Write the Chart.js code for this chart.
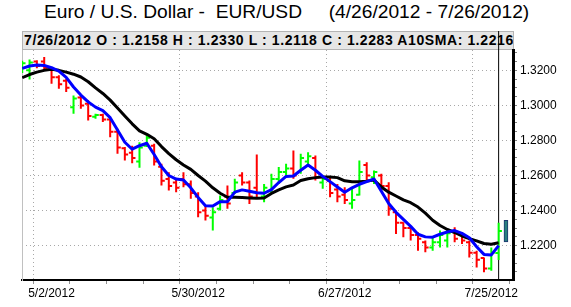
<!DOCTYPE html>
<html><head><meta charset="utf-8">
<script src="https://cdn.jsdelivr.net/npm/chart.js@4.4.1/dist/chart.umd.min.js"></script>
<style>
html,body{margin:0;padding:0;background:#fff;}
#wrap{position:relative;width:571px;height:307px;overflow:hidden;font-family:Arial,"Liberation Sans",sans-serif;}
#title{position:absolute;left:44px;top:1px;font-size:19.2px;white-space:pre;color:#000;}
#hdr{position:absolute;left:22px;top:31px;width:489px;height:17px;background:#e6e6e6;border:1px solid #b4b4b4;font-size:14px;font-weight:bold;white-space:pre;line-height:17px;padding-left:1px;color:#000;letter-spacing:0.6px;overflow:hidden;}
canvas{position:absolute;left:0;top:0;}
</style></head>
<body><div id="wrap"><div id="title">Euro / U.S. Dollar -  EUR/USD     (4/26/2012 - 7/26/2012)</div><div id="hdr">7/26/2012 O : 1.2158 H : 1.2330 L : 1.2118 C : 1.2283 A10SMA: 1.2216</div><canvas id="c" width="571" height="307"></canvas></div>
<script>
const dates = ["4/26/2012","4/27/2012","4/30/2012","5/1/2012","5/2/2012","5/3/2012","5/4/2012","5/7/2012","5/8/2012","5/9/2012","5/10/2012","5/11/2012","5/14/2012","5/15/2012","5/16/2012","5/17/2012","5/18/2012","5/21/2012","5/22/2012","5/23/2012","5/24/2012","5/25/2012","5/28/2012","5/29/2012","5/30/2012","5/31/2012","6/1/2012","6/4/2012","6/5/2012","6/6/2012","6/7/2012","6/8/2012","6/11/2012","6/12/2012","6/13/2012","6/14/2012","6/15/2012","6/18/2012","6/19/2012","6/20/2012","6/21/2012","6/22/2012","6/25/2012","6/26/2012","6/27/2012","6/28/2012","6/29/2012","7/2/2012","7/3/2012","7/4/2012","7/5/2012","7/6/2012","7/9/2012","7/10/2012","7/11/2012","7/12/2012","7/13/2012","7/16/2012","7/17/2012","7/18/2012","7/19/2012","7/20/2012","7/23/2012","7/24/2012","7/25/2012","7/26/2012"];
const open  = [1.3215,1.3200,1.3250,1.3250,1.3205,1.3160,1.3140,1.2990,1.3045,1.3010,1.2935,1.2945,1.2920,1.2850,1.2755,1.2730,1.2680,1.2770,1.2770,1.2650,1.2580,1.2560,1.2580,1.2550,1.2480,1.2400,1.2360,1.2410,1.2480,1.2500,1.2600,1.2560,1.2530,1.2480,1.2510,1.2580,1.2620,1.2640,1.2620,1.2680,1.2700,1.2560,1.2570,1.2520,1.2490,1.2440,1.2490,1.2660,1.2590,1.2600,1.2540,1.2390,1.2330,1.2300,1.2260,1.2220,1.2190,1.2220,1.2230,1.2280,1.2260,1.2220,1.2160,1.2130,1.2070,1.2158];
const high  = [1.3255,1.3262,1.3258,1.3276,1.3210,1.3172,1.3152,1.3057,1.3057,1.3029,1.2952,1.2952,1.2924,1.2867,1.2762,1.2770,1.2790,1.2829,1.2781,1.2667,1.2619,1.2581,1.2619,1.2571,1.2505,1.2429,1.2419,1.2486,1.2543,1.2581,1.2619,1.2571,1.2720,1.2552,1.2610,1.2648,1.2667,1.2743,1.2724,1.2733,1.2714,1.2590,1.2590,1.2552,1.2533,1.2524,1.2686,1.2676,1.2629,1.2610,1.2562,1.2400,1.2333,1.2305,1.2276,1.2229,1.2248,1.2286,1.2295,1.2305,1.2276,1.2229,1.2171,1.2133,1.2190,1.2330];
const low   = [1.3185,1.3148,1.3212,1.3200,1.3124,1.3095,1.3076,1.2952,1.2981,1.2914,1.2924,1.2905,1.2819,1.2724,1.2686,1.2670,1.2645,1.2762,1.2657,1.2543,1.2514,1.2505,1.2533,1.2467,1.2362,1.2343,1.2286,1.2400,1.2410,1.2495,1.2543,1.2438,1.2476,1.2448,1.2495,1.2552,1.2590,1.2581,1.2610,1.2648,1.2571,1.2524,1.2476,1.2448,1.2438,1.2410,1.2486,1.2571,1.2552,1.2514,1.2371,1.2267,1.2248,1.2229,1.2171,1.2162,1.2171,1.2190,1.2190,1.2219,1.2210,1.2133,1.2076,1.2048,1.2057,1.2118];
const close = [1.3240,1.3245,1.3225,1.3215,1.3160,1.3120,1.3100,1.3040,1.3000,1.2940,1.2945,1.2920,1.2850,1.2760,1.2720,1.2700,1.2760,1.2815,1.2680,1.2570,1.2540,1.2530,1.2550,1.2500,1.2390,1.2370,1.2390,1.2460,1.2440,1.2560,1.2560,1.2480,1.2500,1.2530,1.2580,1.2620,1.2640,1.2600,1.2700,1.2710,1.2590,1.2580,1.2500,1.2480,1.2460,1.2460,1.2620,1.2600,1.2620,1.2540,1.2410,1.2330,1.2300,1.2260,1.2240,1.2190,1.2220,1.2260,1.2270,1.2240,1.2230,1.2160,1.2120,1.2070,1.2160,1.2283];
const sma10 = [1.3158,1.3176,1.3190,1.3200,1.3206,1.3200,1.3190,1.3178,1.3162,1.3135,1.3100,1.3068,1.3030,1.2985,1.2940,1.2895,1.2855,1.2835,1.2810,1.2765,1.2725,1.2690,1.2660,1.2635,1.2600,1.2568,1.2530,1.2499,1.2476,1.2476,1.2474,1.2472,1.2470,1.2472,1.2498,1.2518,1.2535,1.2546,1.2572,1.2582,1.2588,1.2592,1.2592,1.2588,1.2570,1.2565,1.2565,1.2568,1.2574,1.2535,1.2505,1.2483,1.2461,1.2445,1.2420,1.2385,1.2345,1.2315,1.2292,1.2275,1.2255,1.2240,1.2227,1.2212,1.2208,1.2216];
const fastMA = [1.3211,1.3225,1.3230,1.3228,1.3215,1.3195,1.3160,1.3105,1.3059,1.3020,1.2990,1.2970,1.2930,1.2860,1.2790,1.2750,1.2770,1.2784,1.2720,1.2650,1.2600,1.2580,1.2575,1.2530,1.2475,1.2428,1.2426,1.2451,1.2451,1.2505,1.2518,1.2510,1.2502,1.2499,1.2520,1.2560,1.2595,1.2597,1.2630,1.2660,1.2630,1.2595,1.2565,1.2535,1.2505,1.2530,1.2550,1.2565,1.2580,1.2510,1.2440,1.2390,1.2350,1.2310,1.2265,1.2250,1.2248,1.2265,1.2278,1.2286,1.2270,1.2245,1.2194,1.2150,1.2147,1.2200];
const xLabels = ["5/2/2012","5/30/2012","6/27/2012","7/25/2012"];
const yMin = 1.2004, yMax = 1.3316;
const markerRange = [1.2221, 1.2345];
const cursorSpan = [1.2004, 1.3424];

function ohlcPoints(up){
  const pts=[];
  for(let i=0;i<dates.length;i++){
    const isUp = close[i] >= open[i];
    if(isUp!==up) continue;
    pts.push({x:i,y:low[i]},{x:i,y:high[i]},{x:i,y:null},
             {x:i-0.45,y:open[i]},{x:i,y:open[i]},{x:i,y:null},
             {x:i,y:close[i]},{x:i+0.45,y:close[i]},{x:i,y:null});
  }
  return pts;
}
const weekIdx = [];
dates.forEach((d,i)=>{ if((i-4)%5===0 && i>=4) weekIdx.push(i); });
const labelIdx = {};
dates.forEach((d,i)=>{ if(xLabels.includes(d)) labelIdx[i]=d; });
const yTicks=[];
for(let k=Math.ceil(yMin*200);k<=Math.floor(yMax*200);k++) yTicks.push(k/200);
const isMajor = v => Math.abs(v*50-Math.round(v*50))<1e-6;

const lineDs = (data,color,w,extra)=>Object.assign({type:'line',data,borderColor:color,borderWidth:w,pointRadius:0,pointHoverRadius:0,tension:0,spanGaps:false,fill:false,borderCapStyle:'butt'},extra||{});

new Chart(document.getElementById('c'),{
  type:'line',
  data:{datasets:[
    lineDs(fastMA.map((v,i)=>({x:i,y:v})),'#0000ff',3,{borderJoinStyle:'round'}),
    lineDs(sma10.map((v,i)=>({x:i,y:v})),'#000000',3,{borderJoinStyle:'round'}),
    lineDs(ohlcPoints(false),'#ff0000',2),
    lineDs(ohlcPoints(true),'#00ff00',2),
    lineDs([{x:dates.length-1,y:cursorSpan[0]},{x:dates.length-1,y:cursorSpan[1]}],'#000000',1,{clip:false}),
    {type:'bar',data:[{x:dates.length,y:markerRange}],barThickness:4,backgroundColor:'#2a7f7f',borderColor:'#1c3570',borderWidth:1,borderSkipped:false}
  ]},
  options:{
    responsive:false,animation:false,
    layout:{padding:{left:22,top:50,right:0,bottom:0}},
    plugins:{legend:{display:false},tooltip:{enabled:false},title:{display:false}},
    scales:{
      x:{type:'linear',min:-0.03,max:66.96,offset:false,
        afterBuildTicks:s=>{s.ticks=weekIdx.map(v=>({value:v}));},
        afterFit:s=>{s.height=27;},
        ticks:{autoSkip:false,maxRotation:0,padding:2,color:'#000',font:{family:'Arial',size:12},callback:v=>labelIdx[v]||''},
        grid:{color:c=>labelIdx[c.tick&&c.tick.value]?'#a8a8a8':'rgba(0,0,0,0)',tickColor:'#909090',tickLength:4,lineWidth:1},
        border:{color:'#000',width:2,dash:[1,3]}
      },
      y:{position:'right',min:yMin,max:yMax,
        afterBuildTicks:s=>{s.ticks=yTicks.map(v=>({value:v}));},
        afterFit:s=>{s.width=58;},
        ticks:{autoSkip:false,padding:3,color:'#000',font:{family:'Arial',size:12},callback:v=>isMajor(v)?v.toFixed(4):''},
        grid:{color:c=>(c.tick&&isMajor(c.tick.value))?'#a8a8a8':'rgba(0,0,0,0)',tickColor:'#808080',tickLength:4,lineWidth:1},
        border:{color:'#000',width:3,dash:[1,3]}
      },
      yl:{position:'left',display:true,min:yMin,max:yMax,
        afterFit:s=>{s.width=0;},
        ticks:{display:false},grid:{display:false,drawTicks:false},
        border:{display:true,color:'#c0c0c0',width:1}
      }
    }
  }
});
</script>
</body></html>
